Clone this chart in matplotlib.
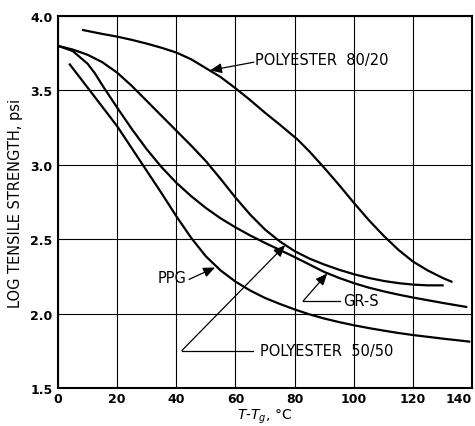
import matplotlib.pyplot as plt

# -----------------------------
# CURVE DATA (T - Tg in degC, log tensile strength in psi)
# -----------------------------

poly8020_t = [8.5, 15, 20, 25, 30, 35, 40, 45, 50, 55, 60, 65, 70, 75, 81, 85, 90,
              95, 100, 105, 110, 115, 120, 125, 130, 133]
poly8020_y = [3.906, 3.88, 3.862, 3.84, 3.815, 3.787, 3.755, 3.71, 3.65, 3.59, 3.515,
              3.435, 3.35, 3.27, 3.17, 3.09, 2.98, 2.865, 2.745, 2.63, 2.525, 2.43,
              2.35, 2.29, 2.24, 2.215]

poly5050_t = [0, 5, 10, 15, 20, 25, 30, 35, 40, 45, 50, 55, 60, 65, 70, 75, 80, 85,
              90, 95, 100, 105, 110, 115, 120, 125, 130]
poly5050_y = [3.80, 3.775, 3.74, 3.69, 3.62, 3.53, 3.43, 3.33, 3.23, 3.13, 3.025, 2.905,
              2.78, 2.665, 2.565, 2.485, 2.42, 2.37, 2.33, 2.295, 2.265, 2.24, 2.22,
              2.205, 2.195, 2.19, 2.19]

grs_t = [0, 5, 10, 12.5, 15, 20, 25, 30, 35, 40, 45, 50, 55, 60, 65, 70, 75, 80, 85,
         90, 95, 100, 105, 110, 115, 120, 125, 130, 135, 138]
grs_y = [3.80, 3.765, 3.68, 3.615, 3.535, 3.385, 3.24, 3.105, 2.985, 2.88, 2.79, 2.71,
         2.64, 2.58, 2.525, 2.475, 2.428, 2.38, 2.33, 2.28, 2.24, 2.205, 2.175, 2.15,
         2.128, 2.108, 2.09, 2.072, 2.055, 2.045]

ppg_t = [4, 10, 15, 20, 25, 30, 35, 40, 45, 50, 55, 60, 65, 70, 75, 80, 85, 90, 95,
         100, 105, 110, 115, 120, 130, 139]
ppg_y = [3.675, 3.52, 3.39, 3.26, 3.11, 2.96, 2.81, 2.655, 2.51, 2.385, 2.29, 2.215,
         2.155, 2.105, 2.065, 2.028, 1.995, 1.967, 1.943, 1.922, 1.903, 1.886, 1.87,
         1.856, 1.832, 1.812]

x_ticks = [0, 20, 40, 60, 80, 100, 120, 140]
y_ticks = [1.5, 2.0, 2.5, 3.0, 3.5, 4.0]

# -----------------------------
# PLOT
# -----------------------------

fig = plt.figure(figsize=(4.75, 4.27), dpi=100)
ax = fig.add_axes([0.122, 0.089, 0.872, 0.871])

for t, y in [(poly8020_t, poly8020_y), (poly5050_t, poly5050_y),
             (grs_t, grs_y), (ppg_t, ppg_y)]:
    ax.plot(t, y, color="black", linewidth=1.6, solid_joinstyle="round")

ax.set_xlim(0, 140)
ax.set_ylim(1.5, 4.0)
ax.set_xticks(x_ticks)
ax.set_yticks(y_ticks)
ax.set_xticklabels([str(v) for v in x_ticks])
ax.set_yticklabels([f"{v:.1f}" for v in y_ticks])
ax.tick_params(axis="x", length=0, pad=3, labelsize=9)
ax.tick_params(axis="y", length=0, pad=4, labelsize=9)
for lab in ax.get_xticklabels() + ax.get_yticklabels():
    lab.set_fontweight("bold")
# last x label sits inside the frame edge
ax.get_xticklabels()[-1].set_horizontalalignment("right")
ax.grid(True, color="black", linewidth=0.8)
for s in ax.spines.values():
    s.set_linewidth(1.5)

ax.set_xlabel(r"$T$-$T_g$, °C", fontsize=10, labelpad=1)
ax.set_ylabel("LOG TENSILE STRENGTH, psi", fontsize=10.5, labelpad=5)

arrow = dict(arrowstyle="-|>,head_length=0.7,head_width=0.3", color="black",
             linewidth=0.9, shrinkA=0, shrinkB=0)
label_kw = dict(fontsize=10.5, va="center")

# curve labels
ax.annotate("", xy=(51.4, 3.635), xytext=(66.2, 3.69), arrowprops=arrow)
ax.text(66.6, 3.71, "POLYESTER  80/20", ha="left", **label_kw)

ax.annotate("", xy=(53.1, 2.31), xytext=(44.3, 2.23), arrowprops=arrow)
ax.text(43.6, 2.246, "PPG", ha="right", **label_kw)

ax.plot([82.9, 95.4], [2.085, 2.085], color="black", linewidth=0.9)
ax.annotate("", xy=(91.0, 2.27), xytext=(82.9, 2.085), arrowprops=arrow)
ax.text(96.4, 2.085, "GR-S", ha="left", **label_kw)

ax.plot([41.9, 65.9], [1.752, 1.752], color="black", linewidth=0.9)
ax.annotate("", xy=(76.8, 2.46), xytext=(41.9, 1.752), arrowprops=arrow)
ax.text(68.3, 1.749, "POLYESTER  50/50", ha="left", **label_kw)

fig.savefig("out.png", dpi=100)
